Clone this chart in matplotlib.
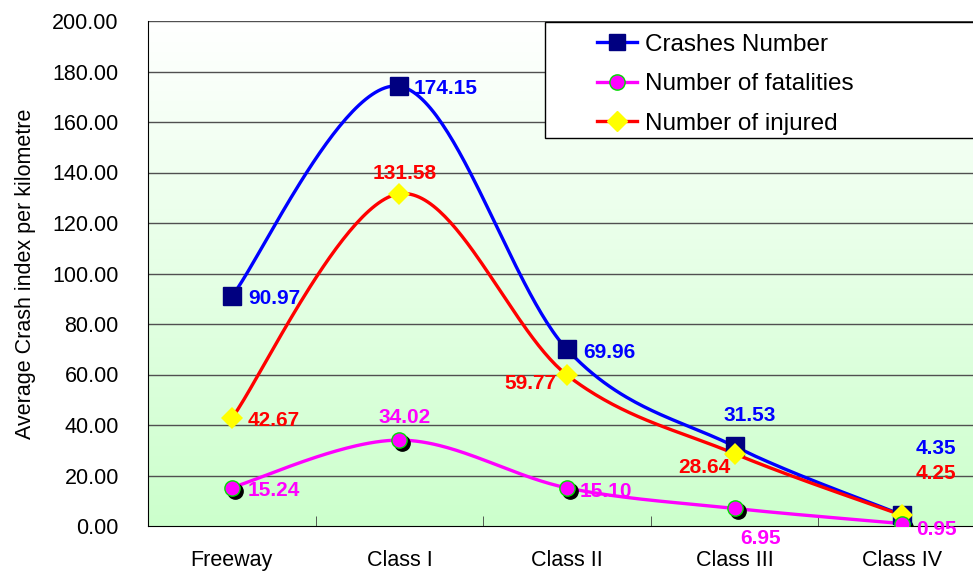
import numpy as np
import matplotlib
matplotlib.use('Agg')
import matplotlib.pyplot as plt
from matplotlib.patches import Rectangle
from matplotlib.transforms import offset_copy

plt.rcParams['font.family'] = ['Liberation Sans', 'DejaVu Sans']

categories = ['Freeway', 'Class I', 'Class II', 'Class III', 'Class IV']
crashes = [90.97, 174.15, 69.96, 31.53, 4.35]
fatalities = [15.24, 34.02, 15.10, 6.95, 0.95]
injured = [42.67, 131.58, 59.77, 28.64, 4.25]
series_names = ['Crashes Number', 'Number of fatalities', 'Number of injured']

# label offsets in pixels (dx, dy, ha)
crash_off = [(16, -2, 'left'), (14, -2, 'left'), (16, -3, 'left'), (15, 31, 'center'), (13, 67, 'left')]
fatal_off = [(16, -3, 'left'), (5, 23, 'center'), (13, -4, 'left'), (26, -30, 'center'), (14, -6, 'left')]
injur_off = [(16, -2, 'left'), (5, 20, 'center'), (-11, -8, 'right'), (-4, -14, 'right'), (13, 42, 'left')]


def smooth(xs, ys, n=60):
    # excel-like smoothed line (bezier through points)
    p = np.column_stack([xs, ys]).astype(float)
    ext = np.vstack([p[0], p, p[-1]])
    t = np.linspace(0, 1, n)[:, None]
    out = []
    for i in range(len(p) - 1):
        p0, p1, p2, p3 = ext[i], ext[i + 1], ext[i + 2], ext[i + 3]
        c1 = p1 + (p2 - p0) / 6
        c2 = p2 - (p3 - p1) / 6
        b = (1 - t) ** 3 * p1 + 3 * (1 - t) ** 2 * t * c1 + 3 * (1 - t) * t ** 2 * c2 + t ** 3 * p2
        out.append(b)
    out = np.vstack(out)
    return out[:, 0], out[:, 1]


fig = plt.figure(figsize=(9.73, 5.72), dpi=100)
ax = fig.add_axes([148 / 973, 46 / 572, 838 / 973, 505 / 572])

x = np.arange(len(categories))
ax.set_xlim(-0.5, len(categories) - 0.5)
ax.set_ylim(0, 200)

# gradient background
grad = np.linspace(0, 1, 256)[:, None]
top = np.array([1.0, 1.0, 1.0])
bot = np.array([0.80, 1.0, 0.80])
img = top[None, None, :] * (1 - grad[:, :, None]) + bot[None, None, :] * grad[:, :, None]
ax.imshow(img, extent=[0, 1, 0, 1], transform=ax.transAxes, aspect='auto', zorder=0)

for v in np.arange(20, 201, 20):
    ax.axhline(v, color='#505050', lw=1, zorder=1)

ax.set_yticks(np.arange(0, 201, 20))
ax.set_yticklabels([f'{v:.2f}' for v in np.arange(0, 201, 20)], fontsize=15.5)
ax.tick_params(axis='y', length=0, pad=21)
ax.set_xticks(x)
ax.set_xticklabels(categories, fontsize=15.5)
ax.set_xticks(np.arange(0.5, len(categories) - 0.5), minor=True)
ax.tick_params(axis='x', which='major', length=0, pad=17)
ax.tick_params(axis='x', which='minor', direction='in', length=7, color='#404040')
ax.set_ylabel('Average Crash index per kilometre', fontsize=15.5, labelpad=12)

for s in ['top', 'right']:
    ax.spines[s].set_visible(False)
ax.spines['left'].set_color('black')
ax.spines['bottom'].set_color('black')

shadow = offset_copy(ax.transData, fig=fig, x=3, y=-3, units='dots')

# crashes
sx, sy = smooth(x, crashes)
ax.plot(sx, sy, color='#0000FF', lw=2.4, zorder=3)
ax.plot(x, crashes, 's', color='#000080', ms=12.5, zorder=5)
# injured
sx, sy = smooth(x, injured)
ax.plot(sx, sy, color='#FF0000', lw=2.4, zorder=3)
ax.plot(x, injured, 'D', color='#FFFF00', ms=11, mew=0, zorder=6)
# fatalities
sx, sy = smooth(x, fatalities)
ax.plot(sx, sy, color='#FF00FF', lw=2.4, zorder=3)
ax.plot(x, fatalities, 'o', color='black', ms=11, transform=shadow, zorder=4)
ax.plot(x, fatalities, 'o', mfc='#FF00FF', mec='#00DD00', mew=1, ms=11, zorder=6)

for vals, offs, col in [(crashes, crash_off, '#0000FF'),
                        (fatalities, fatal_off, '#FF00FF'),
                        (injured, injur_off, '#FF0000')]:
    for i, v in enumerate(vals):
        dx, dy, ha = offs[i]
        ax.annotate(f'{v:.2f}', (x[i], v), xytext=(dx, dy), textcoords='offset pixels',
                    ha=ha, va='center', color=col, fontsize=15, fontweight='bold',
                    zorder=7, annotation_clip=False)

# legend box
fig.patches.append(Rectangle((545 / 973, 1 - 138 / 572), 440 / 973, 116 / 572,
                             transform=fig.transFigure, facecolor='white',
                             edgecolor='black', lw=1, zorder=8))
h1, = ax.plot([], [], color='#0000FF', lw=2.4, marker='s', mfc='#000080', mec='#000080', ms=12)
h2, = ax.plot([], [], color='#FF00FF', lw=2.4, marker='o', mfc='#FF00FF', mec='#00DD00', ms=11)
h3, = ax.plot([], [], color='#FF0000', lw=2.4, marker='D', mfc='#FFFF00', mec='#FFFF00', ms=10)
leg = fig.legend([h1, h2, h3], series_names, loc='upper left',
                 bbox_to_anchor=(592 / 973, 1 - 29 / 572), frameon=False,
                 fontsize=17.5, handlelength=1.65, handletextpad=0.33, labelspacing=0.72,
                 borderpad=0.2, borderaxespad=0)
leg.set_zorder(9)

fig.savefig('out.png', dpi=100)
